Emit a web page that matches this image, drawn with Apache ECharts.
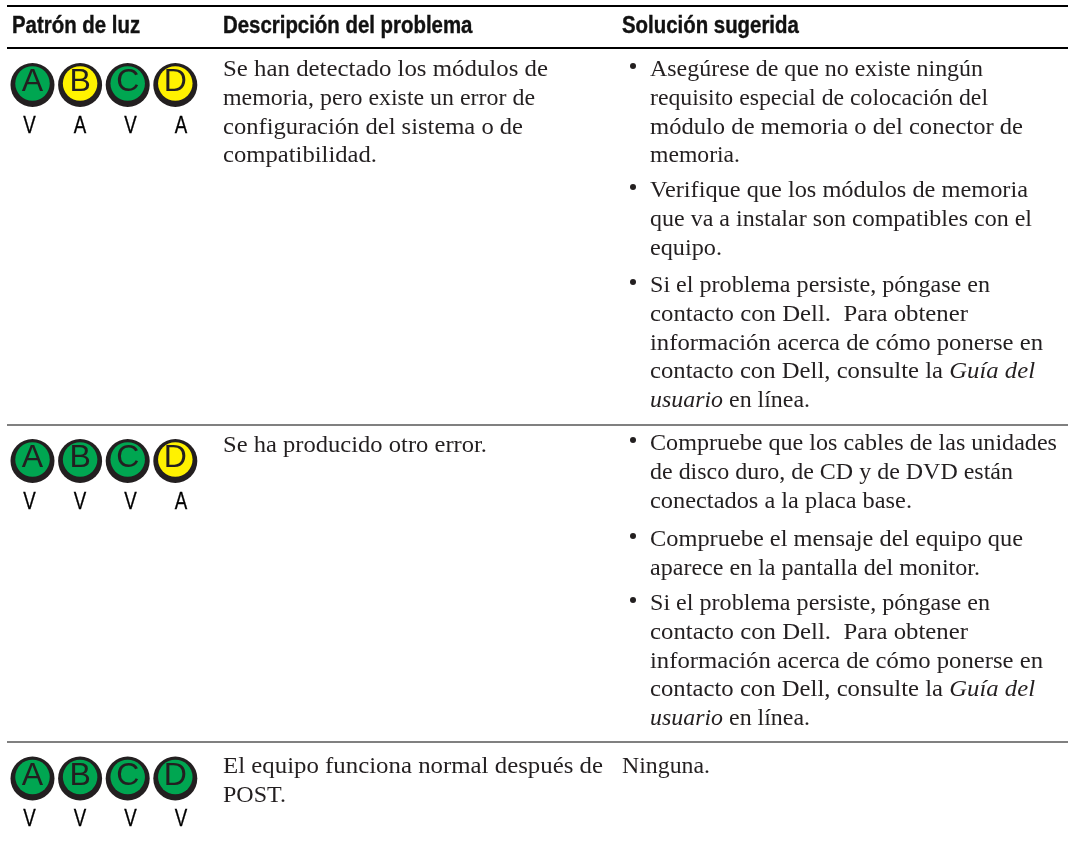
<!DOCTYPE html>
<html><head><meta charset="utf-8">
<style>html,body{margin:0;padding:0;background:#fff}#c{width:1068px;height:867px}</style>
<script src="https://cdn.jsdelivr.net/npm/echarts@6/dist/echarts.min.js"></script>
</head><body><div id="c"></div>
<script>
var leds = ['A','B','C','D'];
var row1 = ['V','A','V','A'];
var row2 = ['V','V','V','A'];
var row3 = ['V','V','V','V'];
var headers = ['Patrón de luz','Descripción del problema','Solución sugerida'];
var desc1 = ['Se han detectado los módulos de','memoria, pero existe un error de','configuración del sistema o de','compatibilidad.'];
var desc2 = ['Se ha producido otro error.'];
var desc3 = ['El equipo funciona normal después de','POST.'];
var sol1a = ['Asegúrese de que no existe ningún','requisito especial de colocación del','módulo de memoria o del conector de','memoria.'];
var sol1b = ['Verifique que los módulos de memoria','que va a instalar son compatibles con el','equipo.'];
var sol1c = ['Si el problema persiste, póngase en','contacto con Dell.  Para obtener','información acerca de cómo ponerse en',['contacto con Dell, consulte la ','Guía del'],['usuario',' en línea.']];
var sol2a = ['Compruebe que los cables de las unidades','de disco duro, de CD y de DVD están','conectados a la placa base.'];
var sol2b = ['Compruebe el mensaje del equipo que','aparece en la pantalla del monitor.'];
var sol3 = ['Ninguna.'];

var SERIF = '"Liberation Serif", serif';
var SANS = '"Liberation Sans", sans-serif';
var GREEN = '#00a651', YELLOW = '#fff200', DARK = '#231f20';
var graphics = [];
var ctx = document.createElement('canvas').getContext('2d');
var SIZE = 23.5, LH = 28.7;
function rule(y, h, color){
  graphics.push({type:'rect', shape:{x:7, y:y, width:1061, height:h}, style:{fill:color}, silent:true});
}
function font(o){ return (o.italic?'italic ':'')+(o.weight||'normal')+' '+(o.size||SIZE)+'px '+(o.family||SERIF); }
function txt(x, y, s, o){
  o = o || {};
  var size = o.size||SIZE;
  var st = {text:s, fill:o.fill||DARK, font:font(o), verticalAlign:'middle', align:'left'};
  if (o.stroke) { st.stroke = o.fill||DARK; st.lineWidth = o.stroke; }
  graphics.push({type:'text', x:x, y:y-0.3*size, scaleX:o.sx||1, silent:true, style:st});
}
function w(s,o){ ctx.font = font(o); return ctx.measureText(s).width; }
// ends: right edge in pixels of every line, used to fit the substitute font's widths
function block(x, y, lines, ends){
  lines.forEach(function(l,i){
    var yy = y + i*LH;
    if (Array.isArray(l)) {
      var it0 = l[0]==='usuario';
      var a = w(l[0],{italic:it0}), b = w(l[1],{italic:!it0});
      var sx = (ends[i]-x)/(a+b);
      txt(x,yy,l[0],{italic:it0,sx:sx});
      txt(x+a*sx,yy,l[1],{italic:!it0,sx:sx});
    } else {
      txt(x,yy,l,{sx:(ends[i]-x)/w(l,{})});
    }
  });
}
function bullet(x, y, lines, ends){
  graphics.push({type:'circle', shape:{cx:x, cy:y-11, r:3}, silent:true, style:{fill:DARK}});
  block(x+17, y, lines, ends);
}
rule(5,2,'#000'); rule(47,2,'#000'); rule(424,2,'#808080'); rule(741,2,'#808080');
var H = {family:SANS,weight:'bold',size:24,sx:0.85,fill:'#111',stroke:0.4};
txt(12,34,headers[0],H); txt(223,34,headers[1],H); txt(622,34,headers[2],H);
block(223,77,desc1,[548,535,523,377]); block(223,453,desc2,[487]); block(223,774,desc3,[603,286]);
var solEnds = [990,968,1043,1035,810];
bullet(633,77,sol1a,[983,988,1023,740]);
bullet(633,198,sol1b,[1028,1032,722]);
bullet(633,293,sol1c,solEnds);
bullet(633,451,sol2a,[1057,1013,912]);
bullet(633,547,sol2b,[1023,980]);
bullet(633,611,sol1c,solEnds);
block(622,774,sol3,[710]);

var rows = [{vals:row1, cy:85, ly:126},{vals:row2, cy:461, ly:502},{vals:row3, cy:778.5, ly:819.5}];
var grids=[],xs=[],ys=[],series=[];
rows.forEach(function(r,i){
  var a = i*2, b = i*2+1;
  grids.push({left:8.7, width:190.4, top:r.cy-23, height:46});
  xs.push({type:'category', gridIndex:a, data:leds, show:false});
  ys.push({type:'category', gridIndex:a, data:['s'], show:false});
  series.push({type:'scatter', xAxisIndex:a, yAxisIndex:a, symbol:'circle', symbolSize:44, silent:true, z:2,
    itemStyle:{color:DARK, opacity:1},
    data:leds.map(function(l){return [l,'s'];})});
  series.push({type:'scatter', xAxisIndex:a, yAxisIndex:a, symbol:'circle', symbolSize:34.5, symbolOffset:[0,-1.5], silent:true, z:3,
    data:r.vals.map(function(c,j){return {value:[leds[j],'s'], itemStyle:{color:c==='V'?GREEN:YELLOW, opacity:1}};}),
    label:{show:true, position:'inside', offset:[0,-1], color:DARK, fontSize:32, fontFamily:SANS,
      formatter:function(p){return p.value[0];}}});
  grids.push({left:4.25, width:202, top:r.ly-12, height:24});
  xs.push({type:'category', gridIndex:b, data:leds, show:false});
  ys.push({type:'category', gridIndex:b, data:['s'], show:false});
  series.push({type:'custom', xAxisIndex:b, yAxisIndex:b, silent:true, z:3,
    data:r.vals.map(function(c,j){return [j,0];}),
    renderItem:function(params, api){
      var p = api.coord([api.value(0), api.value(1)]);
      return {type:'text', x:p[0], y:p[1], scaleX:0.78, silent:true,
        style:{text:r.vals[params.dataIndex], fill:'#000', stroke:'#000', lineWidth:0.3,
          font:'normal 24px '+SANS, align:'center', verticalAlign:'middle'}};
    }});
});
var chart = echarts.init(document.getElementById('c'),null,{renderer:'canvas'});
chart.setOption({animation:false, backgroundColor:'#fff', grid:grids, xAxis:xs, yAxis:ys, series:series, graphic:graphics});
</script></body></html>
